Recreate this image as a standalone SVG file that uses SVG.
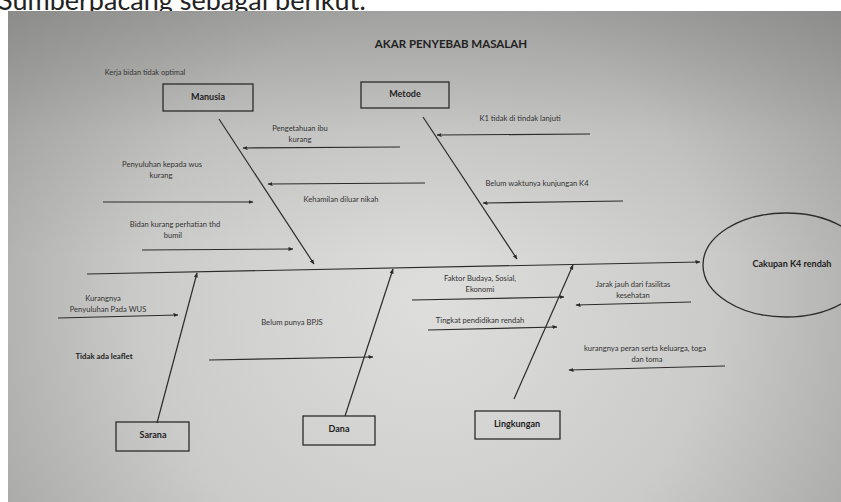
<svg xmlns="http://www.w3.org/2000/svg" width="841" height="502" viewBox="0 0 841 502">
<defs>
<radialGradient id="bg" cx="430" cy="300" r="520" gradientUnits="userSpaceOnUse">
<stop offset="0" stop-color="#dededc"/>
<stop offset="0.55" stop-color="#cbcbc9"/>
<stop offset="1" stop-color="#a2a2a0"/>
</radialGradient>
<linearGradient id="topshade" x1="0" y1="0" x2="0" y2="1">
<stop offset="0" stop-color="#6e6e6e" stop-opacity="0.45"/>
<stop offset="0.25" stop-color="#6e6e6e" stop-opacity="0.12"/>
<stop offset="0.5" stop-color="#6e6e6e" stop-opacity="0"/>
</linearGradient>
<marker id="ah" viewBox="0 0 10 10" refX="9" refY="5" markerWidth="5" markerHeight="5" orient="auto" markerUnits="userSpaceOnUse">
<path d="M0,1 L10,5 L0,9 z" fill="#2a2a2a"/>
</marker>
<style>
.ln{stroke:#2c2c2c;stroke-width:1.3;fill:none}
.ar{stroke:#2c2c2c;stroke-width:1.2;fill:none;marker-end:url(#ah)}
.box{fill:none;stroke:#2c2c2c;stroke-width:1.3}
.t{font-family:Lato,"Liberation Sans",sans-serif;font-size:7.6px;fill:#333;text-anchor:middle}
.b{font-family:Lato,"Liberation Sans",sans-serif;font-size:9px;font-weight:bold;fill:#222;text-anchor:middle}
</style>
</defs>
<rect width="841" height="502" fill="#ffffff"/>
<text x="-2" y="10" font-family="Lato,'Liberation Sans',sans-serif" font-size="27" fill="#222">Sumberpacang sebagai berikut:</text>
<rect x="8" y="11" width="833" height="491" fill="url(#bg)"/>
<rect x="8" y="11" width="833" height="491" fill="url(#topshade)"/>
<text x="451" y="48" class="b" style="font-size:11.5px">AKAR PENYEBAB MASALAH</text>
<text x="145" y="75" class="t" style="font-size:7.4px">Kerja bidan tidak optimal</text>

<g id="connectors">
<line class="ar" x1="87" y1="274" x2="700" y2="262"/>
<line class="ar" x1="219" y1="119" x2="314" y2="264"/>
<line class="ar" x1="423" y1="117" x2="517" y2="259"/>
<line class="ar" x1="157" y1="423" x2="197" y2="273"/>
<line class="ar" x1="345" y1="416" x2="393" y2="269"/>
<line class="ar" x1="514" y1="399" x2="573" y2="265"/>
<line class="ar" x1="400" y1="147" x2="243" y2="148"/>
<line class="ar" x1="103" y1="202" x2="253" y2="202"/>
<line class="ar" x1="425" y1="183" x2="268" y2="184"/>
<line class="ar" x1="142" y1="250" x2="293" y2="249"/>
<line class="ar" x1="590" y1="134" x2="437" y2="135"/>
<line class="ar" x1="623" y1="201" x2="483" y2="203"/>
<line class="ar" x1="58" y1="318" x2="178" y2="315"/>
<line class="ar" x1="209" y1="360" x2="373" y2="357"/>
<line class="ar" x1="412" y1="300" x2="564" y2="297"/>
<line class="ar" x1="428" y1="330" x2="557" y2="327"/>
<line class="ar" x1="691" y1="302" x2="576" y2="305"/>
<line class="ar" x1="725" y1="366" x2="569" y2="370"/>
</g>

<g id="manusia"><rect class="box" x="163" y="84" width="90" height="27"/><text class="b" x="208" y="100">Manusia</text></g>
<g id="metode"><rect class="box" x="361" y="82" width="88" height="26"/><text class="b" x="405" y="97">Metode</text></g>
<g id="sarana"><rect class="box" x="116" y="422" width="73" height="29"/><text class="b" x="153" y="438">Sarana</text></g>
<g id="dana"><rect class="box" x="303" y="416" width="72" height="29"/><text class="b" x="339" y="432">Dana</text></g>
<g id="lingkungan"><rect class="box" x="475" y="411" width="85" height="28"/><text class="b" x="517" y="427">Lingkungan</text></g>
<g id="cakupan"><ellipse class="box" cx="786" cy="265" rx="83" ry="52"/><text class="b" x="792" y="267">Cakupan K4 rendah</text></g>

<g id="labels">
<text class="t" x="300" y="131">Pengetahuan ibu</text>
<text class="t" x="300" y="142">kurang</text>
<text class="t" x="162" y="167">Penyuluhan kepada wus</text>
<text class="t" x="161" y="178">kurang</text>
<text class="t" x="341" y="202">Kehamilan diluar nikah</text>
<text class="t" x="175" y="227">Bidan kurang perhatian thd</text>
<text class="t" x="173" y="238">bumil</text>
<text class="t" x="520" y="121">K1 tidak di tindak lanjuti</text>
<text class="t" x="537" y="186">Belum waktunya kunjungan K4</text>
<text class="t" x="103" y="301">Kurangnya</text>
<text class="t" x="108" y="312">Penyuluhan Pada WUS</text>
<text class="b" x="104" y="359" style="font-size:7.8px">Tidak ada leaflet</text>
<text class="t" x="292" y="325">Belum punya BPJS</text>
<text class="t" x="480" y="281">Faktor Budaya, Sosial,</text>
<text class="t" x="480" y="292">Ekonomi</text>
<text class="t" x="480" y="323">Tingkat pendidikan rendah</text>
<text class="t" x="633" y="287">Jarak jauh dari fasilitas</text>
<text class="t" x="633" y="298">kesehatan</text>
<text class="t" x="645" y="351">kurangnya peran serta keluarga, toga</text>
<text class="t" x="647" y="362">dan toma</text>
</g>
</svg>
